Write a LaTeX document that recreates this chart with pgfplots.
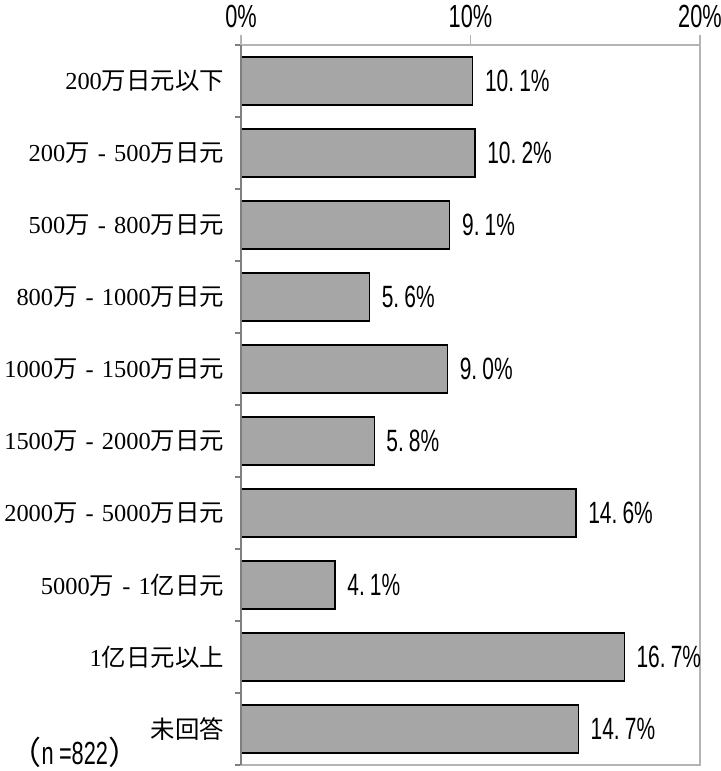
\documentclass[border=0pt]{standalone}
\usepackage{pgfplots}
\pgfplotsset{compat=1.18}
\usepackage{fontspec}
\setmainfont{Liberation Serif}
\newfontfamily\cjk{Noto Sans CJK JP}
\newfontfamily\cond[FakeStretch=0.68]{Liberation Sans}
\definecolor{barfill}{HTML}{A6A6A6}
\definecolor{boxgray}{HTML}{B4B4B4}
\definecolor{leftgray}{HTML}{7F7F7F}
\newcommand\dash{\makebox[1em][c]{-}}
\begin{document}
\begin{tikzpicture}
\useasboundingbox (-120.5pt,-3pt) rectangle (239.5pt,382.5pt);
\begin{axis}[
  at={(0,0)}, anchor=south west,
  scale only axis, width=229.5pt, height=360pt,
  /pgf/number format/assume math mode=true,
  xbar, bar width=0.667,
  xmin=0, xmax=20, ymin=0.5, ymax=10.5, y dir=reverse,
  axis line style={draw=boxgray, line width=0.6pt},
  xtick={0,10,20}, xtick pos=upper, xticklabel pos=upper,
  xticklabel={\pgfmathprintnumber[assume math mode=true]{\tick}\%},
  xticklabel style={font=\cond\fontsize{16}{16}\selectfont, yshift=0pt},
  ytick={1,...,10}, ytick pos=left, major tick length=5pt,
  tick align=outside, tick style={draw=boxgray, line width=0.6pt},
  minor ytick={0.5,1.5,...,10.5}, minor tick length=3pt,
  major y tick style={draw=none},
  minor y tick style={draw=leftgray},
  yticklabels={
    {200{\cjk 万日元以下}},
    {200{\cjk 万}\dash 500{\cjk 万日元}},
    {500{\cjk 万}\dash 800{\cjk 万日元}},
    {800{\cjk 万}\dash 1000{\cjk 万日元}},
    {1000{\cjk 万}\dash 1500{\cjk 万日元}},
    {1500{\cjk 万}\dash 2000{\cjk 万日元}},
    {2000{\cjk 万}\dash 5000{\cjk 万日元}},
    {5000{\cjk 万}\dash 1{\cjk 亿日元}},
    {1{\cjk 亿日元以上}},
    {{\cjk 未回答}}
  },
  yticklabel style={font=\fontsize{12.2}{13}\selectfont, xshift=0pt},
  point meta=x,
  nodes near coords={\pgfmathprintnumber[assume math mode=true,fixed,fixed zerofill,precision=1,dec sep={.\,}]{\pgfplotspointmeta}\%},
  nodes near coords style={font=\cond\fontsize{15.4}{15.4}\selectfont, anchor=west, xshift=2.5pt, text=black},
  clip=false,
]
\addplot[fill=barfill, draw=black, line width=0.6pt] coordinates {
  (10.1,1) (10.2,2) (9.1,3) (5.6,4) (9.0,5) (5.8,6) (14.6,7) (4.1,8) (16.7,9) (14.7,10)
};
\draw[leftgray, line width=0.8pt] (rel axis cs:0,0) -- (rel axis cs:0,1);
\node[font=\cond\fontsize{16}{16}\selectfont] at (rel axis cs:-0.362,0.018) {{\cjk （}n\,=822{\cjk ）}};
\end{axis}
\end{tikzpicture}
\end{document}
